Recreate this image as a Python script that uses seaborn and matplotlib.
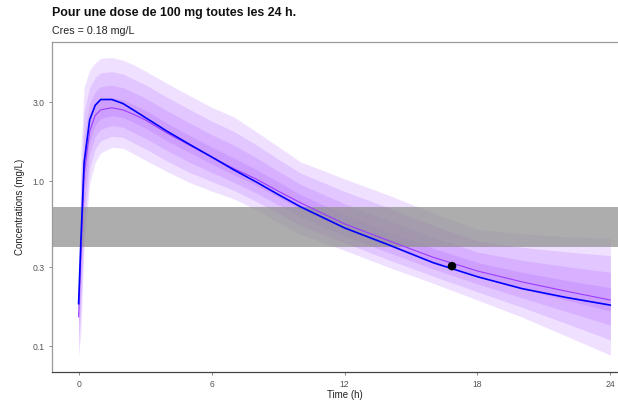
import numpy as np
import pandas as pd
import matplotlib
matplotlib.use("Agg")
import matplotlib.pyplot as plt
import seaborn as sns

# ---- data ----
time_h = [0, 0.1, 0.25, 0.5, 0.75, 1, 1.5, 2, 2.5, 3, 4, 5, 6, 7, 8, 9, 10, 12, 14, 16, 18, 20, 22, 24]

# individual prediction (blue line)
ipred = [0.18, 0.42, 1.3, 2.35, 2.88, 3.12, 3.12, 2.95, 2.68, 2.43, 2.0, 1.67, 1.40, 1.17, 0.99,
         0.83, 0.70, 0.52, 0.41, 0.32, 0.263, 0.223, 0.197, 0.177]

# population median (purple line)
median = [0.15, 0.35, 1.1, 2.0, 2.5, 2.7, 2.78, 2.7, 2.53, 2.35, 1.95, 1.65, 1.4, 1.19, 1.03,
          0.87, 0.74, 0.55, 0.435, 0.345, 0.285, 0.245, 0.215, 0.19]

# prediction bands (outer -> inner)
band1_lo = [0.086, 0.12, 0.4, 0.97, 1.3, 1.48, 1.6, 1.58, 1.46, 1.34, 1.14, 0.98, 0.87, 0.78, 0.67,
            0.56, 0.475, 0.38, 0.30, 0.24, 0.19, 0.15, 0.115, 0.088]
band1_hi = [0.2, 1.5, 3.7, 4.7, 5.2, 5.55, 5.6, 5.4, 5.05, 4.65, 3.9, 3.3, 2.8, 2.45, 2.0,
            1.62, 1.31, 1.03, 0.82, 0.64, 0.51, 0.48, 0.46, 0.45]
band2_lo = [0.100, 0.162, 0.531, 1.19, 1.56, 1.75, 1.87, 1.84, 1.70, 1.57, 1.32, 1.13, 0.995, 0.879, 0.755,
            0.64, 0.538, 0.422, 0.333, 0.265, 0.213, 0.172, 0.137, 0.109]
band2_hi = [0.185, 1.0, 2.63, 3.70, 4.24, 4.53, 4.60, 4.45, 4.13, 3.84, 3.21, 2.72, 2.31, 2.00, 1.66,
            1.36, 1.12, 0.865, 0.687, 0.538, 0.434, 0.397, 0.372, 0.353]
band3_lo = [0.117, 0.216, 0.697, 1.45, 1.86, 2.06, 2.17, 2.12, 1.96, 1.82, 1.53, 1.30, 1.13, 0.984, 0.849,
            0.72, 0.607, 0.466, 0.368, 0.293, 0.238, 0.196, 0.162, 0.134]
band3_hi = [0.171, 0.67, 1.90, 2.94, 3.48, 3.73, 3.81, 3.68, 3.43, 3.19, 2.66, 2.25, 1.91, 1.65, 1.39,
            1.15, 0.957, 0.729, 0.578, 0.456, 0.371, 0.331, 0.303, 0.280]
band4_lo = [0.134, 0.282, 0.898, 1.73, 2.19, 2.39, 2.49, 2.43, 2.26, 2.10, 1.75, 1.49, 1.27, 1.09, 0.946,
            0.80, 0.678, 0.511, 0.404, 0.321, 0.263, 0.222, 0.190, 0.163]
band4_hi = [0.159, 0.468, 1.40, 2.37, 2.90, 3.12, 3.20, 3.10, 2.89, 2.69, 2.24, 1.89, 1.61, 1.38, 1.18,
            0.99, 0.83, 0.624, 0.493, 0.391, 0.321, 0.280, 0.250, 0.226]

# observation
obs_time = [16.85]
obs_conc = [0.305]

# target range
target_lo = 0.40
target_hi = 0.70

x_ticks = [0, 6, 12, 18, 24]
y_ticks = [0.1, 0.3, 1.0, 3.0]
y_tick_labels = ["0.1", "0.3", "1.0", "3.0"]

title = "Pour une dose de 100 mg toutes les 24 h."
subtitle = "Cres = 0.18 mg/L"

# ---- plotting ----
sns.set_theme(style="white")
plt.rcParams["font.family"] = ["Liberation Sans", "DejaVu Sans"]

fig = plt.figure(figsize=(6.18, 4.0), dpi=100)
ax = fig.add_axes([52 / 618, 1 - 372 / 400, 585 / 618, 330 / 400])

bands = [(band1_lo, band1_hi), (band2_lo, band2_hi), (band3_lo, band3_hi), (band4_lo, band4_hi)]
for lo, hi in bands:
    ax.fill_between(time_h, lo, hi, color="#A040FF", alpha=0.16, linewidth=0, zorder=1)

ax.axhspan(target_lo, target_hi, color="#8F8F8F", alpha=0.73, linewidth=0, zorder=2)

df = pd.DataFrame({"time": time_h, "ipred": ipred, "median": median})
sns.lineplot(data=df, x="time", y="median", color="#9A3CFF", linewidth=0.8, ax=ax, zorder=3)
sns.lineplot(data=df, x="time", y="ipred", color="#0000FF", linewidth=1.2, ax=ax, zorder=4)
sns.scatterplot(x=obs_time, y=obs_conc, color="black", s=38, edgecolor="none", ax=ax, zorder=5)

ax.set_yscale("log")
ax.set_xlim(-1.2, 25.2)
ax.set_ylim(0.0696, 6.96)
ax.set_xticks(x_ticks)
ax.set_xticklabels([str(v) for v in x_ticks])
ax.set_yticks(y_ticks)
ax.set_yticklabels(y_tick_labels)
ax.minorticks_off()
ax.tick_params(axis="both", which="major", length=2.5, width=0.6, color="#777777",
               labelsize=6.2, labelcolor="#555555", pad=3, bottom=True, left=True)

ax.set_xlabel("Time (h)", fontsize=7, color="#222222", labelpad=1)
ax.set_ylabel("Concentrations (mg/L)", fontsize=7, color="#222222", labelpad=5)

for side in ["top", "left"]:
    ax.spines[side].set_color("#9A9A9A")
    ax.spines[side].set_linewidth(0.9)
ax.spines["bottom"].set_color("#444444")
ax.spines["bottom"].set_linewidth(0.9)
ax.spines["right"].set_visible(False)

fig.text(52 / 618, 1 - 13 / 400, title, fontsize=8.9, fontweight="bold",
         ha="left", va="center", color="#111111")
fig.text(52 / 618, 1 - 31 / 400, subtitle, fontsize=7.7, ha="left", va="center", color="#222222")

fig.savefig("out.png", dpi=100)
